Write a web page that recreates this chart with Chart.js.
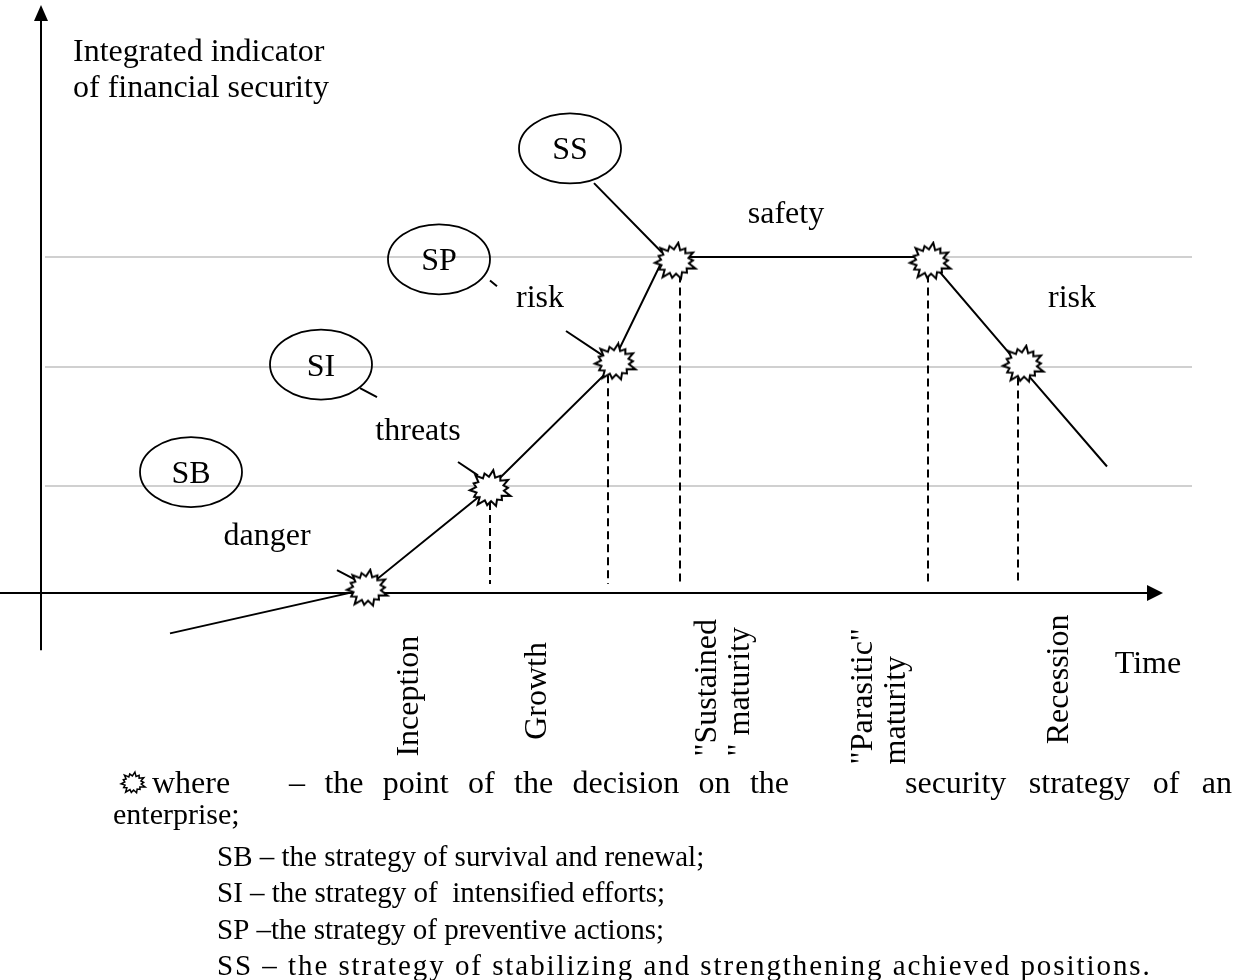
<!DOCTYPE html>
<html>
<head>
<meta charset="utf-8">
<script src="https://cdn.jsdelivr.net/npm/chart.js@4.4.1/dist/chart.umd.min.js"></script>
<style>
  html, body { margin: 0; padding: 0; background: #fff; }
  #wrap { width: 1236px; height: 980px; }
</style>
</head>
<body>
<div id="wrap"><canvas id="lifeCycleChart" width="1236" height="980"></canvas></div>
<script>
// curve of the integrated indicator over the life cycle (x = time, y = indicator)
const curveX = [1.29, 3.23, 4.49, 5.68, 6.23, 8.86, 9.78, 10.66];
const curveY = [-0.36, 0.03, 0.94, 1.99, 3.00, 3.00, 2.04, 1.13];

// points of the decision on the strategy
const decisionX = [3.26, 4.49, 5.74, 6.34, 8.89, 9.82];
const decisionY = [0.04, 0.93, 2.06, 2.96, 2.96, 2.04];

// dashed drop lines down to the time axis
const dropX = [4.49, 5.67, 6.39, 8.87, 9.77];
const dropTop = [0.93, 2.06, 2.96, 2.96, 2.04];
const dropBottom = 0.08;

// zone borders
const zoneLevels = [0.96, 2.02, 3.0];

// zones
const zoneNames = ['danger', 'threats', 'risk', 'safety', 'risk'];
const zoneX = [2.26, 3.77, 4.99, 7.45, 10.31];
const zoneY = [0.43, 1.37, 2.55, 3.30, 2.55];

// strategies
const strategyNames = ['SB', 'SI', 'SP', 'SS'];
const strategyX = [1.50, 2.80, 3.98, 5.29];
const strategyY = [1.08, 2.04, 2.98, 3.97];

// short pointer lines [x1, y1, x2, y2]
const pointerLines = [
  [2.96, 0.205, 3.17, 0.107],
  [3.19, 1.83, 3.36, 1.75],
  [4.17, 1.17, 4.37, 1.05],
  [4.49, 2.79, 4.56, 2.74],
  [5.25, 2.34, 5.62, 2.12],
  [5.53, 3.66, 6.21, 3.04]
];

// life-cycle stages under the time axis
const stageNames = [['Inception'], ['Growth'], ['"Sustained', '" maturity'], ['"Parasitic"', 'maturity'], ['Recession']];
const stageX = [3.77, 5.05, 6.75, 8.31, 10.27];
const stageY = [-1.46, -1.31, -1.46, -1.53, -1.35];

const axisTitle = ['Integrated indicator', 'of financial security'];
const timeTitle = 'Time';

const legendLines = [
  'SB \u2013 the strategy of survival and renewal;',
  'SI \u2013 the strategy of  intensified efforts;',
  'SP \u2013the strategy of preventive actions;',
  'SS \u2013 the strategy of stabilizing and strengthening achieved positions.'
];

const SERIF = '"Liberation Serif", "Times New Roman", serif';

function makeStar(w, h) {
  const c = document.createElement('canvas');
  c.width = w;
  c.height = h;
  const g = c.getContext('2d');
  const spikes = 14;
  const outer = [1, 0.84, 0.95, 0.82, 1, 0.8, 0.93, 0.86, 1, 0.83, 0.92, 0.8, 0.97, 0.85];
  const cx = w / 2, cy = h / 2;
  g.beginPath();
  for (let i = 0; i < spikes * 2; i++) {
    const a = -Math.PI / 2 + i * Math.PI / spikes + 0.15;
    const r = i % 2 === 0 ? outer[i / 2] : 0.64;
    g.lineTo(cx + Math.cos(a) * r * (w / 2 - 2), cy + Math.sin(a) * r * (h / 2 - 2));
  }
  g.closePath();
  g.fillStyle = '#fff';
  g.fill();
  g.lineWidth = w > 35 ? 2 : 1.5;
  g.lineJoin = 'miter';
  g.strokeStyle = '#000';
  g.stroke();
  return c;
}

const starImg = makeStar(48, 42);
const smallStar = makeStar(30, 26);

function pairs(xs, ys) {
  return xs.map((v, i) => ({ x: v, y: ys[i] }));
}

const dropData = [];
dropX.forEach((v, i) => {
  dropData.push({ x: v, y: dropTop[i] }, { x: v, y: dropBottom }, { x: v, y: null });
});

const pointerData = [];
pointerLines.forEach(p => {
  pointerData.push({ x: p[0], y: p[1] }, { x: p[2], y: p[3] }, { x: p[2], y: null });
});

// spread the words of a line so it fills the given width (justified text)
function justifyText(ctx, s, left, base, width) {
  const words = s.split(' ');
  const natural = words.reduce((a, w) => a + ctx.measureText(w).width, 0);
  const gap = (width - natural) / (words.length - 1);
  let cx = left;
  ctx.textAlign = 'left';
  words.forEach(w => {
    ctx.fillText(w, cx, base);
    cx += ctx.measureText(w).width + gap;
  });
}

// widen a line with letter spacing until it fills the given width
function spacedText(ctx, s, left, base, width) {
  const natural = ctx.measureText(s).width;
  ctx.save();
  ctx.letterSpacing = ((width - natural) / s.length).toFixed(2) + 'px';
  ctx.textAlign = 'left';
  ctx.fillText(s, left, base);
  ctx.restore();
}

const diagram = {
  id: 'diagram',
  beforeDatasetsDraw(chart) {
    const { ctx, scales: { x, y } } = chart;
    const x0 = x.getPixelForValue(0);
    const y0 = y.getPixelForValue(0);
    ctx.save();
    ctx.strokeStyle = '#000';
    ctx.fillStyle = '#000';
    ctx.lineWidth = 2;

    // time axis with arrow
    const tip = x.getPixelForValue(11.22);
    ctx.beginPath();
    ctx.moveTo(x.getPixelForValue(-0.41), y0);
    ctx.lineTo(tip - 12, y0);
    ctx.stroke();
    ctx.beginPath();
    ctx.moveTo(tip, y0);
    ctx.lineTo(tip - 16, y0 - 8);
    ctx.lineTo(tip - 16, y0 + 8);
    ctx.closePath();
    ctx.fill();

    // indicator axis with arrow
    const top = y.getPixelForValue(5.25);
    ctx.beginPath();
    ctx.moveTo(x0, y.getPixelForValue(-0.51));
    ctx.lineTo(x0, top + 12);
    ctx.stroke();
    ctx.beginPath();
    ctx.moveTo(x0, top);
    ctx.lineTo(x0 - 7, top + 16);
    ctx.lineTo(x0 + 7, top + 16);
    ctx.closePath();
    ctx.fill();
    ctx.restore();
  },
  afterDatasetsDraw(chart) {
    const { ctx, scales: { x, y } } = chart;
    ctx.save();
    ctx.fillStyle = '#000';
    ctx.strokeStyle = '#000';
    ctx.font = '32px ' + SERIF;
    ctx.textBaseline = 'alphabetic';

    // strategy ellipses
    strategyNames.forEach((s, i) => {
      const cx = x.getPixelForValue(strategyX[i]);
      const cy = y.getPixelForValue(strategyY[i]);
      ctx.lineWidth = 1.8;
      ctx.beginPath();
      ctx.ellipse(cx, cy, 51, 35, 0, 0, Math.PI * 2);
      ctx.stroke();
      ctx.textAlign = 'center';
      ctx.fillText(s, cx, cy + 11);
    });

    // zone names
    ctx.textAlign = 'center';
    zoneNames.forEach((s, i) => {
      ctx.fillText(s, x.getPixelForValue(zoneX[i]), y.getPixelForValue(zoneY[i]));
    });

    // axis titles
    ctx.textAlign = 'left';
    ctx.fillText(axisTitle[0], 73, 61);
    ctx.fillText(axisTitle[1], 73, 97);
    ctx.textAlign = 'center';
    ctx.fillText(timeTitle, x.getPixelForValue(11.07), y.getPixelForValue(-0.71));

    // stage labels, rotated
    ctx.textAlign = 'left';
    stageNames.forEach((lines, i) => {
      lines.forEach((s, j) => {
        ctx.save();
        ctx.translate(x.getPixelForValue(stageX[i]) + j * 33, y.getPixelForValue(stageY[i]));
        ctx.rotate(-Math.PI / 2);
        ctx.fillText(s, 0, 0);
        ctx.restore();
      });
    });

    // legend
    ctx.font = '32px ' + SERIF;
    ctx.drawImage(smallStar, 118, 770);
    ctx.textAlign = 'left';
    ctx.fillText('where', 152, 793);
    justifyText(ctx, '\u2013 the point of the decision on the', 289, 793, 500);
    justifyText(ctx, 'security strategy of an', 905, 793, 327);
    ctx.font = '30px ' + SERIF;
    ctx.fillText('enterprise;', 113, 824);
    ctx.font = '29px ' + SERIF;
    const base = [866, 902, 939, 975];
    legendLines.forEach((s, i) => {
      if (i === 3) spacedText(ctx, s, 217, base[i], 935);
      else ctx.fillText(s, 217, base[i]);
    });
    ctx.restore();
  }
};

new Chart(document.getElementById('lifeCycleChart'), {
  type: 'scatter',
  data: {
    datasets: [
      {
        label: 'decision points',
        data: pairs(decisionX, decisionY),
        pointStyle: starImg,
        pointRadius: 20,
        order: 0
      },
      {
        label: 'indicator',
        data: pairs(curveX, curveY),
        showLine: true,
        borderColor: '#000',
        borderWidth: 2,
        pointRadius: 0,
        tension: 0,
        order: 1
      },
      {
        label: 'pointers',
        data: pointerData,
        showLine: true,
        spanGaps: false,
        borderColor: '#000',
        borderWidth: 2,
        pointRadius: 0,
        order: 2
      },
      {
        label: 'drops',
        data: dropData,
        showLine: true,
        spanGaps: false,
        borderColor: '#000',
        borderWidth: 2,
        borderDash: [8, 5],
        pointRadius: 0,
        order: 3
      }
    ]
  },
  options: {
    responsive: false,
    animation: false,
    events: [],
    layout: { autoPadding: false, padding: { left: 45, right: 44, top: 0, bottom: 0 } },
    plugins: { legend: { display: false }, tooltip: { enabled: false } },
    scales: {
      x: { type: 'linear', min: 0.04, max: 11.51, display: false },
      y: {
        type: 'linear',
        min: -3.455,
        max: 5.295,
        afterBuildTicks: axis => { axis.ticks = zoneLevels.map(v => ({ value: v })); },
        ticks: { display: false },
        border: { display: false },
        grid: { color: '#d0d0d0', lineWidth: 2, drawTicks: false, tickLength: 0 }
      }
    }
  },
  plugins: [diagram]
});
</script>
</body>
</html>
